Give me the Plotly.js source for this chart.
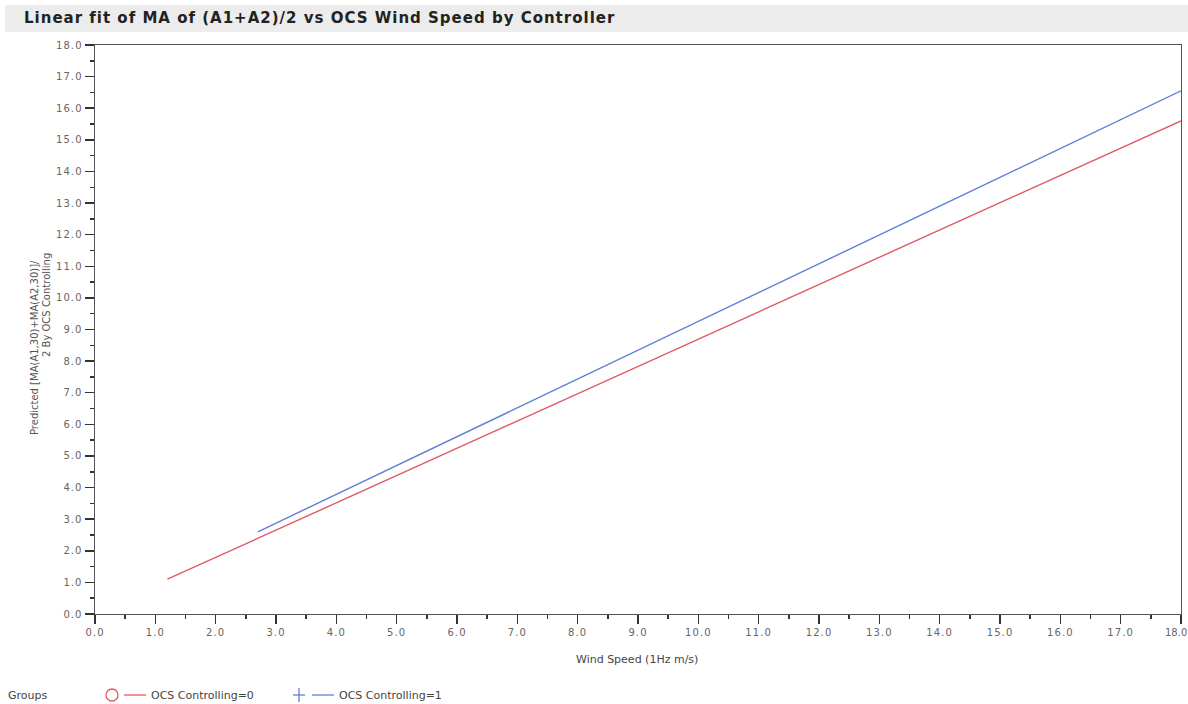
<!DOCTYPE html>
<html>
<head>
<meta charset="utf-8">
<script src="https://cdn.plot.ly/plotly-3.0.1.min.js"></script>
<style>
  html, body { margin: 0; padding: 0; background: #ffffff; }
  #chart { width: 1188px; height: 704px; }
  #chart .gtitle { letter-spacing: 1px; }
  #chart .xtick text, #chart .ytick text { letter-spacing: 1.1px; }
</style>
</head>
<body>
<div id="chart"></div>
<script>
// ---- Data ----
const groupNames = ["OCS Controlling=0", "OCS Controlling=1"];
const groupColors = ["#e05a66", "#5f7fd8"];
const windSpeed0 = [1.2, 18.0];
const predicted0 = [1.1, 15.6];
const windSpeed1 = [2.7, 18.0];
const predicted1 = [2.6, 16.55];

// tick labels
const tickValues = [0, 1, 2, 3, 4, 5, 6, 7, 8, 9, 10, 11, 12, 13, 14, 15, 16, 17, 18];
const tickLabels = ["0.0", "1.0", "2.0", "3.0", "4.0", "5.0", "6.0", "7.0", "8.0", "9.0",
                    "10.0", "11.0", "12.0", "13.0", "14.0", "15.0", "16.0", "17.0", "18.0"];

const chartTitle = "Linear fit of MA of (A1+A2)/2 vs OCS Wind Speed by Controller";
const xTitle = "Wind Speed (1Hz m/s)";
const yTitleLine1 = "Predicted [MA(A1,30)+MA(A2,30)]/";
const yTitleLine2 = "2 By OCS Controlling";
const legendTitle = "Groups";

// ---- Layout geometry (pixels) ----
const W = 1188, H = 704;
const M = { l: 95, r: 7, t: 45, b: 90 };
const plotW = W - M.l - M.r, plotH = H - M.t - M.b;
const px = X => (X - M.l) / plotW;          // pixel x -> paper x
const py = Y => (H - M.b - Y) / plotH;      // pixel y -> paper y

const traces = [
  { x: windSpeed0, y: predicted0, name: groupNames[0], mode: "lines",
    line: { color: groupColors[0], width: 1.4 }, showlegend: false },
  { x: windSpeed1, y: predicted1, name: groupNames[1], mode: "lines",
    line: { color: groupColors[1], width: 1.4 }, showlegend: false }
];

const FONT = "DejaVu Sans, sans-serif";
const tickFont = { family: FONT, size: 10, color: "#666" };
const textFont = { family: FONT, size: 11, color: "#444" };

function axis(len, labels) {
  return {
    range: [0, 18.0], autorange: false,
    tickmode: "array", tickvals: tickValues, ticktext: labels,
    ticks: "outside", ticklen: len, tickwidth: 1.5, tickcolor: "#333",
    minor: { dtick: 0.5, tick0: 0, ticks: "outside", ticklen: 4, tickwidth: 1.5, tickcolor: "#333" },
    showgrid: false, zeroline: false,
    showline: true, linecolor: "#555", linewidth: 1.4, mirror: true,
    tickfont: tickFont
  };
}

// last x label is drawn right-aligned so it stays inside the page
const xLabels = tickLabels.slice(0, -1).concat([""]);
const ly = 695; // legend row centre (px)

const layout = {
  width: W, height: H,
  margin: M,
  paper_bgcolor: "#ffffff",
  plot_bgcolor: "#ffffff",
  title: {
    text: "<b>" + chartTitle + "</b>",
    font: { family: FONT, size: 15, color: "#222" },
    x: 24 / W, xanchor: "left", xref: "container",
    y: 1 - 18 / H, yanchor: "middle", yref: "container"
  },
  xaxis: axis(9, xLabels),
  yaxis: axis(9, tickLabels),
  shapes: [
    // grey title band
    { type: "rect", xref: "paper", yref: "paper", layer: "below",
      x0: px(5), x1: px(W), y0: py(32), y1: py(5),
      fillcolor: "#ececec", line: { width: 0 } },
    // legend: red circle
    { type: "circle", xref: "paper", yref: "paper",
      x0: px(106), x1: px(118), y0: py(ly + 6), y1: py(ly - 6),
      line: { color: groupColors[0], width: 1.3 }, fillcolor: "rgba(0,0,0,0)" },
    // legend: red line
    { type: "line", xref: "paper", yref: "paper",
      x0: px(124), x1: px(146), y0: py(ly), y1: py(ly),
      line: { color: groupColors[0], width: 1.3 } },
    // legend: blue plus
    { type: "line", xref: "paper", yref: "paper",
      x0: px(293), x1: px(305), y0: py(ly), y1: py(ly),
      line: { color: groupColors[1], width: 1.3 } },
    { type: "line", xref: "paper", yref: "paper",
      x0: px(299), x1: px(299), y0: py(ly + 7), y1: py(ly - 7),
      line: { color: groupColors[1], width: 1.3 } },
    // legend: blue line
    { type: "line", xref: "paper", yref: "paper",
      x0: px(312), x1: px(334), y0: py(ly), y1: py(ly),
      line: { color: groupColors[1], width: 1.3 } }
  ],
  annotations: [
    // last x tick label
    { text: tickLabels[tickLabels.length - 1], xref: "x", yref: "paper",
      x: tickValues[tickValues.length - 1], y: py(632),
      xanchor: "right", yanchor: "middle", xshift: 8, showarrow: false,
      font: tickFont },
    // axis titles
    { text: xTitle, xref: "paper", yref: "paper", x: px(637), y: py(659),
      xanchor: "center", yanchor: "middle", showarrow: false, font: textFont },
    { text: yTitleLine1, xref: "paper", yref: "paper", x: px(34), y: py(348),
      xanchor: "center", yanchor: "middle", showarrow: false, textangle: -90,
      font: { family: FONT, size: 10, color: "#555" } },
    { text: yTitleLine2, xref: "paper", yref: "paper", x: px(46), y: py(305),
      xanchor: "center", yanchor: "middle", showarrow: false, textangle: -90,
      font: { family: FONT, size: 10, color: "#555" } },
    // legend texts
    { text: legendTitle, xref: "paper", yref: "paper", x: px(6), y: py(ly),
      xanchor: "left", yanchor: "middle", showarrow: false, font: textFont },
    { text: groupNames[0], xref: "paper", yref: "paper", x: px(149), y: py(ly),
      xanchor: "left", yanchor: "middle", showarrow: false, font: textFont },
    { text: groupNames[1], xref: "paper", yref: "paper", x: px(337), y: py(ly),
      xanchor: "left", yanchor: "middle", showarrow: false, font: textFont }
  ],
  showlegend: false
};

Plotly.newPlot("chart", traces, layout, { displayModeBar: false, staticPlot: true });
</script>
</body>
</html>
